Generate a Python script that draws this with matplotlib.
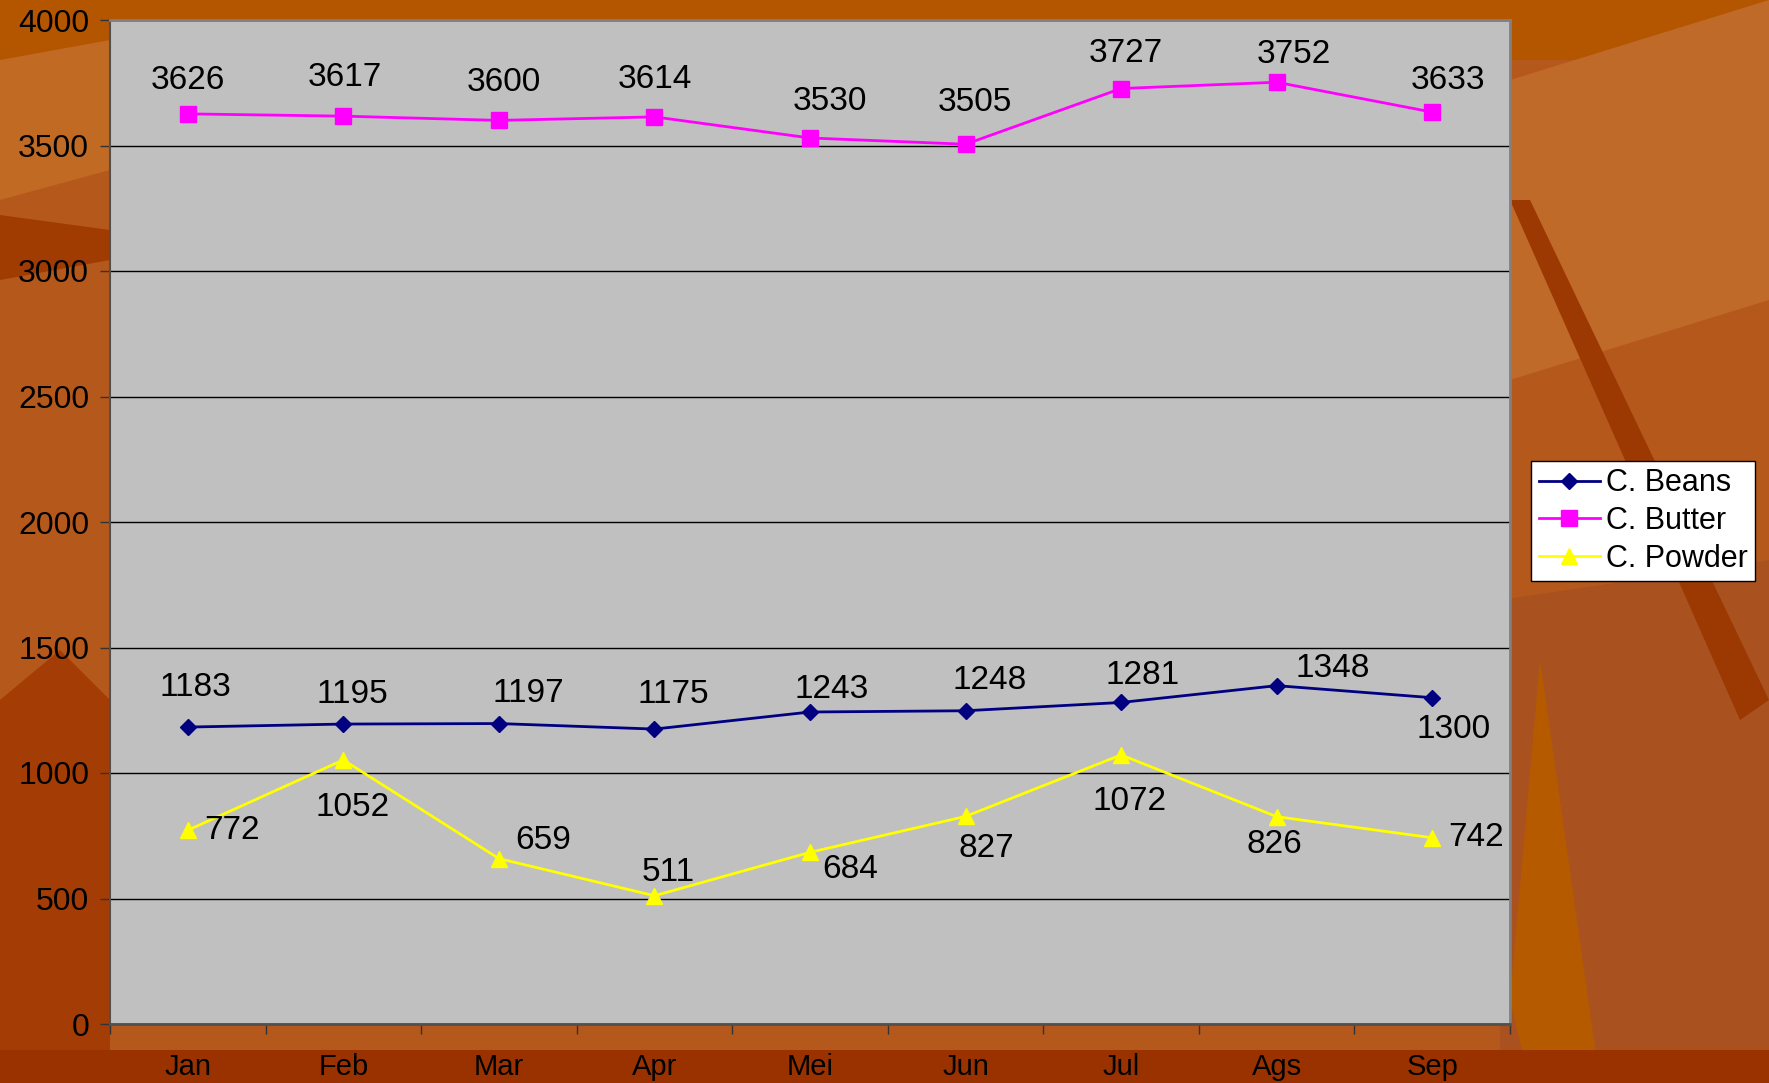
import matplotlib
matplotlib.use("Agg")
import matplotlib.pyplot as plt
from matplotlib.patches import Polygon

months = ["Jan", "Feb", "Mar", "Apr", "Mei", "Jun", "Jul", "Ags", "Sep"]
beans = [1183, 1195, 1197, 1175, 1243, 1248, 1281, 1348, 1300]
butter = [3626, 3617, 3600, 3614, 3530, 3505, 3727, 3752, 3633]
powder = [772, 1052, 659, 511, 684, 827, 1072, 826, 742]
yticks = [0, 500, 1000, 1500, 2000, 2500, 3000, 3500, 4000]

# label offsets (in pixels of the shrunk reference view)
beans_off = [(7, -35), (8, -26), (26, -27), (17, -31), (19, -20), (21, -27), (19, -24), (50, -15), (19, 28)]
butter_off = [(0, -30), (1, -34), (4, -34), (0, -33), (18, -32), (8, -37), (4, -31), (15, -25), (14, -28)]
powder_off = [(39, 0), (8, 42), (39, -16), (12, -21), (36, 15), (18, 28), (7, 41), (-2, 25), (39, 0)]

plt.rcParams['font.family'] = ['Liberation Sans', 'DejaVu Sans']

W, H = 1769, 1083
fig = plt.figure(figsize=(W / 100, H / 100), dpi=100)
fig.patch.set_facecolor('#B5581C')

# decorative background shapes
def poly(pts, color):
    fig.patches.append(Polygon([(x / W, 1 - y / H) for x, y in pts], closed=True,
                               transform=fig.transFigure, facecolor=color,
                               edgecolor='none', zorder=-10))

poly([(0, 0), (1769, 0), (1769, 60), (0, 60)], '#B45500')
poly([(0, 60), (110, 40), (110, 170), (0, 200)], '#C06A24')
poly([(0, 215), (110, 230), (110, 260), (0, 280)], '#A03C02')
poly([(1500, 600), (1769, 560), (1769, 1083), (1500, 1083)], '#A9521F')
poly([(1510, 1000), (1540, 660), (1600, 1083), (1530, 1083)], '#B65A00')
poly([(0, 1050), (1769, 1050), (1769, 1083), (0, 1083)], '#9A3200')
poly([(0, 700), (60, 650), (110, 700), (110, 1050), (0, 1050)], '#A33C05')
poly([(1510, 80), (1769, 0), (1769, 300), (1510, 380)], '#BF6A28')
poly([(1510, 200), (1530, 200), (1769, 700), (1740, 720)], '#9C3802')

ax = fig.add_axes([110 / W, 1 - 1024 / H, 1400 / W, 1004 / H])
ax.set_facecolor('#C0C0C0')

x = list(range(len(months)))
ax.plot(x, beans, color='#000080', lw=2, marker='D', ms=8, mfc='#000080', mec='#000080', label='C. Beans', zorder=3)
ax.plot(x, butter, color='#FF00FF', lw=2, marker='s', ms=11, mfc='#FF00FF', mec='#FF00FF', label='C. Butter', zorder=3)
ax.plot(x, powder, color='#FFFF00', lw=2, marker='^', ms=12, mfc='#FFFF00', mec='#FFFF00', label='C. Powder', zorder=3)

s = 1769 / 1568
for series, offs in ((beans, beans_off), (butter, butter_off), (powder, powder_off)):
    for i, (v, (dx, dy)) in enumerate(zip(series, offs)):
        ax.annotate(str(v), (i, v), xytext=(dx * s, -dy * s), textcoords='offset pixels',
                    ha='center', va='center', fontsize=24, color='black', zorder=4)

ax.set_xlim(-0.5, len(months) - 0.5)
ax.set_ylim(0, 4000)
ax.set_yticks(yticks)
ax.set_yticklabels([str(t) for t in yticks], fontsize=23)
ax.yaxis.grid(True, color='black', lw=1)
ax.set_axisbelow(True)

ax.set_xticks([i - 0.5 for i in range(len(months) + 1)])
ax.set_xticklabels([])
ax.set_xticks(x, minor=True)
ax.set_xticklabels(months, minor=True, fontsize=21)
ax.tick_params(axis='x', which='major', length=7, width=1, direction='out', color='#333333')
ax.tick_params(axis='x', which='minor', length=0, pad=21)
ax.tick_params(axis='y', length=7, width=1, direction='out', color='#333333', pad=8)

for side in ('top', 'right'):
    ax.spines[side].set_color('#808080')
    ax.spines[side].set_linewidth(2)
ax.spines['left'].set_color('#505050')
ax.spines['bottom'].set_color('#505050')
ax.spines['left'].set_linewidth(1.5)
ax.spines['bottom'].set_linewidth(2)

leg = ax.legend(loc='center left', bbox_to_anchor=(1531 / W, 1 - 521 / H),
                bbox_transform=fig.transFigure, fontsize=22, frameon=True,
                fancybox=False, edgecolor='black', facecolor='white', framealpha=1,
                handlelength=2.0, handletextpad=0.2, borderpad=0.25, labelspacing=0.25,
                borderaxespad=0)
leg.get_frame().set_linewidth(1)

fig.savefig('out.png', dpi=100, facecolor=fig.get_facecolor())
